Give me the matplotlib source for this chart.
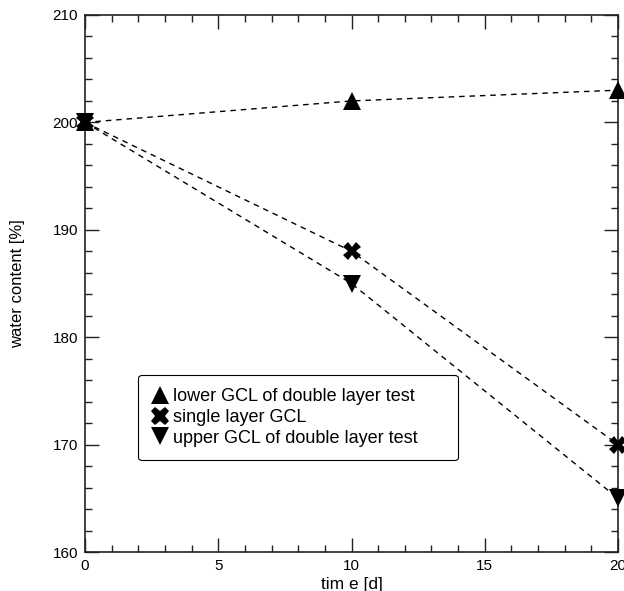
import matplotlib.pyplot as plt
from matplotlib.lines import Line2D
from matplotlib.ticker import MultipleLocator

plt.rcParams['font.family'] = ['Liberation Sans', 'DejaVu Sans']

# Data
time_d = [0, 10, 20]
lower_gcl = [200, 202, 203]
single_gcl = [200, 188, 170]
upper_gcl = [200, 185, 165]

series = [
    ('lower GCL of double layer test', lower_gcl, '^'),
    ('single layer GCL', single_gcl, 'X'),
    ('upper GCL of double layer test', upper_gcl, 'v'),
]

fig = plt.figure(figsize=(6.24, 5.91), dpi=100)
ax = fig.add_axes([85 / 624, 1 - 552 / 591, 533 / 624, 537 / 591])

handles = []
for label, vals, mk in series:
    ax.plot(time_d, vals, color='black', linestyle=(0, (4, 3.5)), linewidth=1.0,
            marker=mk, markersize=12.5, markeredgewidth=0, markerfacecolor='black',
            clip_on=False, zorder=3)
    handles.append(Line2D([], [], color='black', linestyle='none', marker=mk,
                          markersize=13, markeredgewidth=0, label=label))

ax.set_xlim(0, 20)
ax.set_ylim(160, 210)
ax.xaxis.set_major_locator(MultipleLocator(5))
ax.xaxis.set_minor_locator(MultipleLocator(1))
ax.yaxis.set_major_locator(MultipleLocator(10))
ax.yaxis.set_minor_locator(MultipleLocator(2))
ax.tick_params(which='both', direction='in', top=True, right=True,
               labelsize=11, color='#222222', width=1)
ax.tick_params(which='major', length=10, pad=5)
ax.tick_params(which='minor', length=5)
for sp in ax.spines.values():
    sp.set_linewidth(1.2)
    sp.set_color('#222222')

ax.set_xlabel('tim e [d]', fontsize=12.5, labelpad=3)
ax.set_ylabel('water content [%]', fontsize=12, labelpad=20)

leg = ax.legend(handles=handles, loc='lower left',
                bbox_to_anchor=(0.1, 0.171, 0.6, 0.162), mode='expand',
                fontsize=13, frameon=True, fancybox=True, edgecolor='black',
                framealpha=1, handlelength=0.9, handletextpad=0.25,
                labelspacing=0.2, borderpad=0.75, borderaxespad=0)
leg.get_frame().set_linewidth(0.8)

plt.savefig('out.png', dpi=100)
